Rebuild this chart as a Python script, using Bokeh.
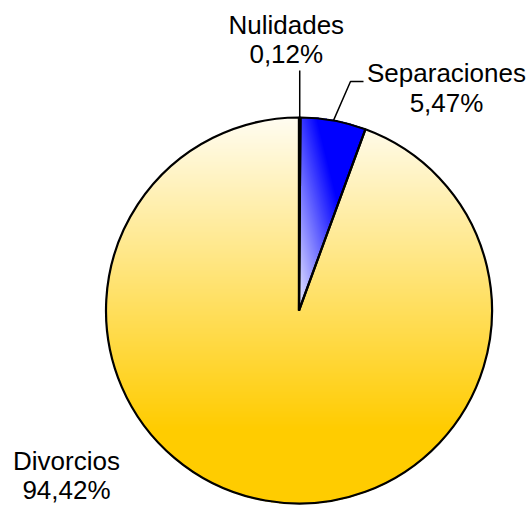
import numpy as np
from bokeh.plotting import figure
from bokeh.models import Range1d, ColumnDataSource
from bokeh.core.properties import value
from bokeh.embed import file_html
from bokeh.resources import INLINE

# ---- data ----
categories = ["Nulidades", "Separaciones", "Divorcios"]
percentages = [0.12, 5.47, 94.42]

# ---- layout (reference pixel coordinates, y down) ----
CX, CY, R = 298.5, 310.0, 193.0
label_x = [285.8, 446.0, 66.0]
label_y = [33.3, 81.7, 469.0]
LINE_GAP = 29.5
BASE_FIX = 9.0
FONT = "Liberation Sans"
FSIZE = "26px"

W, H = 530, 505
p = figure(width=W, height=H, output_backend="svg", toolbar_location=None,
           x_range=Range1d(0, W), y_range=Range1d(-H, 0),
           min_border=0)
p.axis.visible = False
p.grid.visible = False
p.outline_line_color = None
p.background_fill_color = "white"
p.border_fill_color = "white"

cy = -CY
fr = np.array(percentages) / sum(percentages)
cum = np.concatenate([[0], np.cumsum(fr)])

# ---- gradient fill image ----
pad = 3
x0, y0 = CX - R - pad, cy - R - pad
N = int(2 * (R + pad))
xs = x0 + np.arange(N) + 0.5
ys = y0 + np.arange(N) + 0.5
X, Y = np.meshgrid(xs, ys)
dx, dy = X - CX, Y - cy
rr = np.hypot(dx, dy)
theta = np.mod(np.arctan2(dx, dy), 2 * np.pi) / (2 * np.pi)
img = np.zeros((N, N, 4), dtype=np.uint8)
inside = rr <= R + 0.5

# Divorcios: vertical gradient
ref_y = -Y
t = np.clip((ref_y - 117) / (430 - 117), 0, 1)
div = inside & (theta >= cum[2]) & (theta <= cum[3] + 1e-9)
img[..., 0][div] = 255
img[..., 1][div] = (253 - t * (253 - 204))[div].astype(np.uint8)
img[..., 2][div] = (242 - t * 242)[div].astype(np.uint8)
img[..., 3][div] = 255

# Separaciones: diagonal gradient
a = np.deg2rad(14)
pp = dx * np.cos(a) + dy * np.sin(a)
ts = np.clip(pp / 64.0, 0, 1)
sep = inside & (theta >= cum[1]) & (theta < cum[2])
img[..., 0][sep] = (235 - 235 * ts)[sep].astype(np.uint8)
img[..., 1][sep] = (235 - 235 * ts)[sep].astype(np.uint8)
img[..., 2][sep] = 255
img[..., 3][sep] = 255

# Nulidades
nul = inside & (theta < cum[1])
img[..., 0][nul] = 0
img[..., 1][nul] = 0
img[..., 2][nul] = 0
img[..., 3][nul] = 255

rgba = img.view(dtype=np.uint32).reshape(N, N)
p.image_rgba(image=[rgba], x=x0, y=y0, dw=N, dh=N)

# ---- wedge outlines ----
start = [np.pi / 2 - 2 * np.pi * cum[i] for i in range(3)]
end = [np.pi / 2 - 2 * np.pi * cum[i + 1] for i in range(3)]
src = ColumnDataSource(dict(start=start, end=end))
p.wedge(x=CX, y=cy, radius=R, start_angle="start", end_angle="end",
        direction="clock", source=src, fill_alpha=0,
        line_color="black", line_width=2.2)

# ---- leader lines ----
mid = [(cum[i] + cum[i + 1]) / 2 * 2 * np.pi for i in range(3)]
# Nulidades: vertical
ex, ey = CX + R * np.sin(mid[0]), cy + R * np.cos(mid[0])
p.line([ex, ex], [ey, -70], line_color="black", line_width=1.5)
# Separaciones: bent
ex, ey = CX + R * np.sin(mid[1]), cy + R * np.cos(mid[1])
p.line([ex, 350, 363], [ey, -81, -81], line_color="black", line_width=1.5)

# ---- labels ----
names = categories
pcts = [f"{v:.2f}".replace(".", ",") + "%" for v in percentages]
lx = label_x + label_x
ly = ([-(y - BASE_FIX) for y in label_y]
      + [-(y + LINE_GAP - BASE_FIX) for y in label_y])
p.text(x=lx, y=ly, text=names + pcts, text_font=value(FONT),
       text_font_size=FSIZE, text_align="center", text_baseline="alphabetic",
       text_color="black")

open("out.html", "w").write(file_html(p, INLINE))
